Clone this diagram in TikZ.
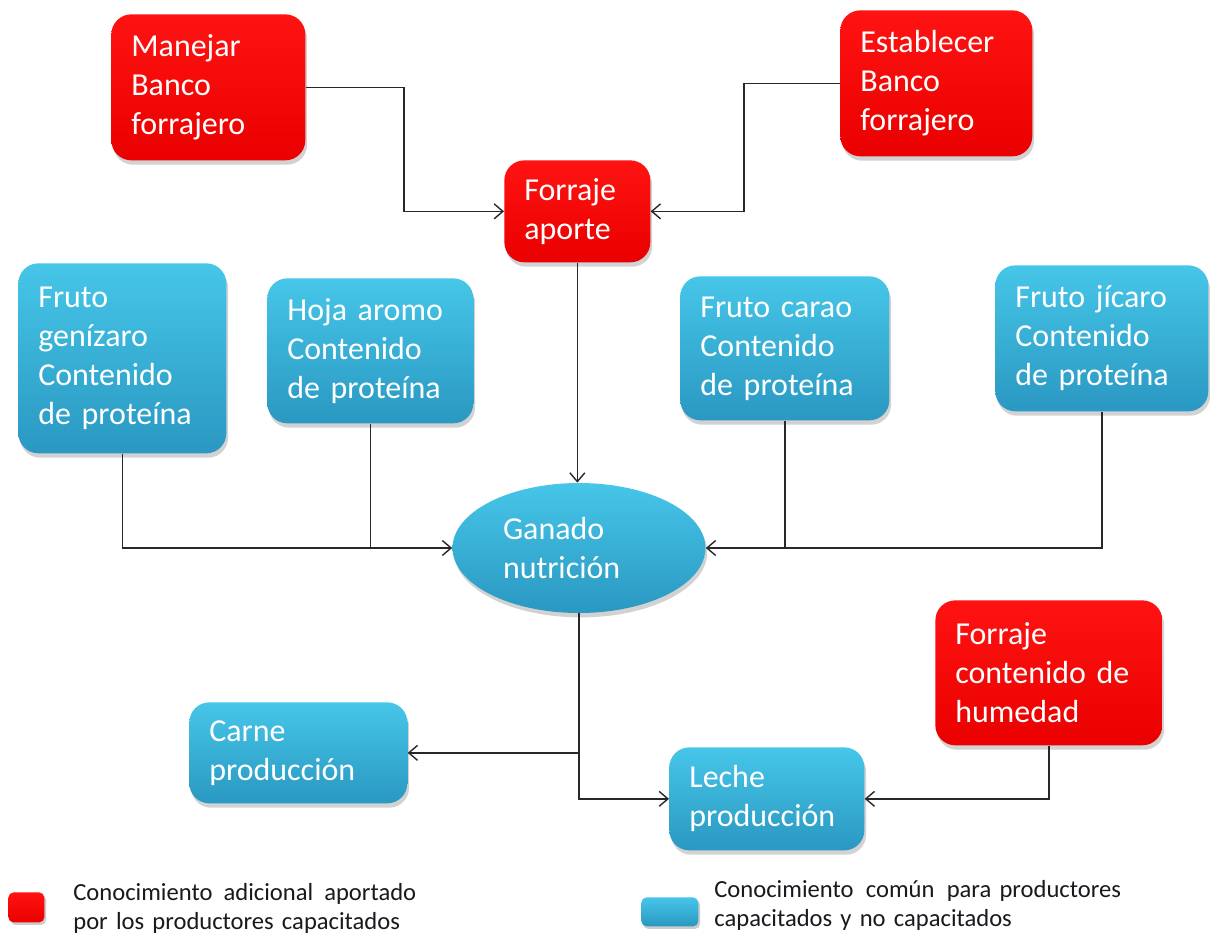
\documentclass[tikz,border=0pt]{standalone}
\usepackage{fontspec}
\setmainfont{Carlito}
\usetikzlibrary{arrows.meta,shapes.geometric,shadows}

\definecolor{redtop}{RGB}{255,18,18}
\definecolor{redmid}{RGB}{254,0,0}
\definecolor{redbot}{RGB}{234,0,0}
\definecolor{bluetop}{RGB}{70,198,232}
\definecolor{bluemid}{RGB}{56,182,220}
\definecolor{bluebot}{RGB}{42,152,194}
\definecolor{linegray}{RGB}{40,40,40}
\definecolor{legendtext}{RGB}{25,25,30}

\newcommand\bxfont{\fontsize{18.2}{22.2}\selectfont}
\newcommand\lgfont{\fontsize{14}{17}\selectfont}

\tikzset{
  box/.style={anchor=north west, rounded corners=0.4cm, inner xsep=0.4cm,
    inner ysep=0pt, align=left, text=white, font=\bxfont,
    drop shadow={opacity=0.35, shadow xshift=1pt, shadow yshift=-2.5pt}},
  redbox/.style={box, top color=redtop, middle color=redmid, bottom color=redbot},
  bluebox/.style={box, top color=bluetop, middle color=bluemid, bottom color=bluebot},
  swatch/.style={anchor=north west, rounded corners=3pt, inner sep=0pt,
    drop shadow={opacity=0.4, shadow xshift=1pt, shadow yshift=-1.5pt}},
  legtext/.style={anchor=base west, inner sep=0pt, align=left, font=\lgfont,
    text=legendtext, text width=8.4cm},
  conn/.style={draw=linegray, line width=0.8pt},
  arr/.style={conn, -{Straight Barb[length=5pt,width=8.5pt,line width=0.8pt]}}
}

\begin{document}
\begin{tikzpicture}[x=0.02cm, y=-0.02cm]
  \fill[white] (0,0) rectangle (1210,940);
  \useasboundingbox (0,0) rectangle (1210,940);

  % additional knowledge (red)
  \node[redbox, minimum width=3.88cm, minimum height=2.92cm, text width=3.08cm]
    (manejar) at (111,14) {Manejar\\Banco\\forrajero};
  \node[redbox, minimum width=3.84cm, minimum height=2.92cm, text width=3.04cm]
    (establecer) at (840,10) {Establecer\\Banco\\forrajero};
  \node[redbox, minimum width=2.92cm, minimum height=2.04cm, text width=2.12cm]
    (aporte) at (504,160) {Forraje\\aporte};
  \node[redbox, minimum width=4.54cm, minimum height=2.90cm, text width=3.74cm]
    (humedad) at (935,600) {Forraje\\contenido de\\humedad};

  % common knowledge (blue)
  \node[bluebox, minimum width=4.16cm, minimum height=3.80cm, text width=3.36cm]
    (genizaro) at (18,263) {Fruto\\genízaro\\Contenido\\de proteína};
  \node[bluebox, minimum width=4.12cm, minimum height=2.90cm, text width=3.32cm]
    (aromo) at (267,278) {Hoja aromo\\Contenido\\de proteína};
  \node[bluebox, minimum width=4.18cm, minimum height=2.88cm, text width=3.38cm]
    (carao) at (680,276) {Fruto carao\\Contenido\\de proteína};
  \node[bluebox, minimum width=4.26cm, minimum height=2.92cm, text width=3.46cm]
    (jicaro) at (995,265) {Fruto jícaro\\Contenido\\de proteína};
  \node[bluebox, minimum width=4.36cm, minimum height=2.02cm, text width=3.56cm]
    (carne) at (189,702) {Carne\\producción};
  \node[bluebox, minimum width=3.90cm, minimum height=2.06cm, text width=3.10cm]
    (leche) at (669,747) {Leche\\producción};

  \node[ellipse, inner sep=0pt, minimum width=5.06cm, minimum height=2.60cm,
    text width=3.04cm, align=left, text=white, font=\bxfont,
    top color=bluetop, middle color=bluemid, bottom color=bluebot,
    drop shadow={opacity=0.35, shadow xshift=1pt, shadow yshift=-2.5pt}]
    (ganado) at (579,548) {Ganado\\nutrición};

  % bend points of the elbow connectors
  \coordinate (kL) at (404,0);
  \coordinate (kR) at (744,0);

  \draw[arr] (manejar.east) -| (kL |- aporte.west) -- (aporte.west);
  \draw[arr] (establecer.west) -| (kR |- aporte.east) -- (aporte.east);
  \draw[arr] (aporte.south) -- (aporte.south |- ganado.north);
  \draw[arr] (genizaro.south) |- (ganado.west);
  \draw[conn] (aromo.south) -- (aromo.south |- ganado.west);
  \draw[arr] (carao.south) |- (ganado.east);
  \draw[conn] (jicaro.south) |- (carao.south |- ganado.east);
  \draw[arr] (ganado.south) |- (carne.east);
  \draw[arr] (ganado.south) |- (leche.west);
  \draw[arr] (humedad.south) |- (leche.east);

  % legend
  \node[swatch, top color=redtop, middle color=redmid, bottom color=redbot,
    minimum width=0.72cm, minimum height=0.60cm] (legred) at (8,892) {};
  \node[legtext] (legredtxt) at (73,900)
    {Conocimiento\hspace{0.45em}adicional\hspace{0.45em}aportado\\por los productores capacitados};
  \node[swatch, top color=bluetop, middle color=bluemid, bottom color=bluebot,
    minimum width=1.14cm, minimum height=0.58cm] (legblue) at (641,897) {};
  \node[legtext] (legbluetxt) at (714,897)
    {Conocimiento\hspace{0.5em}común\hspace{0.5em}para productores\\capacitados y no capacitados};
\end{tikzpicture}
\end{document}
